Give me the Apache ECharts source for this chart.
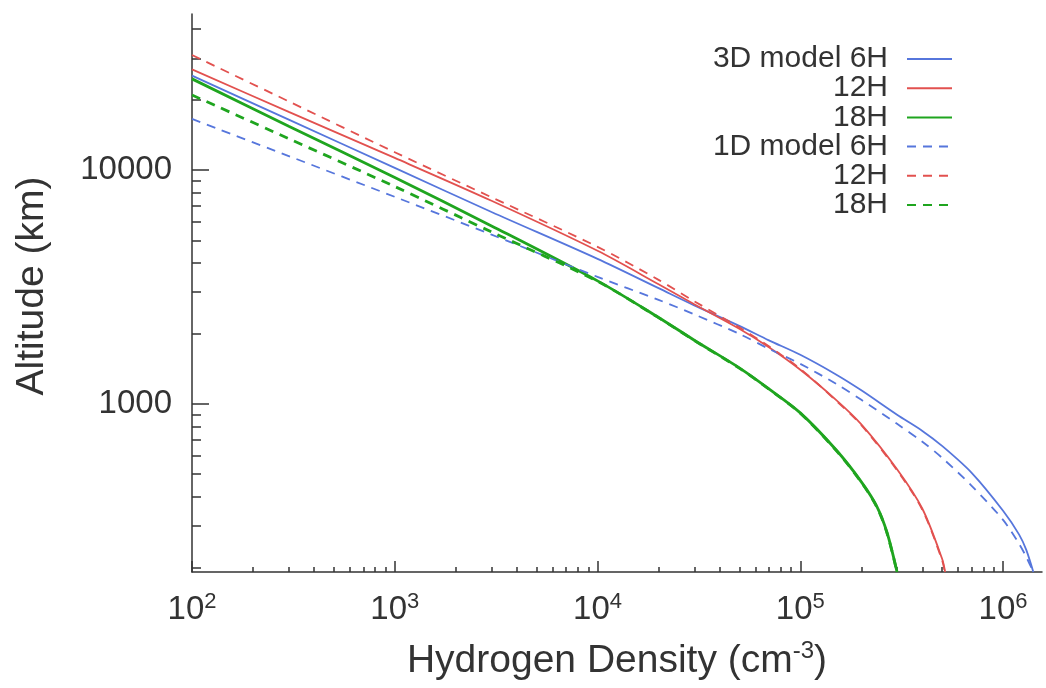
<!DOCTYPE html>
<html>
<head>
<meta charset="utf-8">
<title>Hydrogen density profiles</title>
<script src="https://cdn.jsdelivr.net/npm/echarts@6/dist/echarts.min.js"></script>
<style>
  html, body { margin: 0; padding: 0; background: #fff; }
  #chart { width: 1046px; height: 688px; }
</style>
</head>
<body>
<div id="chart"></div>
<script>
// Density (cm^-3) and altitude (km) pairs for each model run
const dens3D6H = [100, 300, 1000, 3000, 1e4, 2e4, 3e4, 5e4, 7e4, 1e5, 1.5e5, 2e5, 3e5, 4e5, 5e5, 7e5, 1e6, 1.2e6, 1.3e6, 1.41e6];
const alt3D6H  = [25300, 16400, 10200, 6610, 4166, 3122, 2636, 2154, 1868, 1620, 1335, 1142, 898, 766, 661, 507, 349, 276, 238, 191];

const dens3D12H = [100, 300, 1000, 3000, 1e4, 2e4, 3e4, 5e4, 7e4, 1e5, 1.5e5, 2e5, 3e5, 4e5, 5e5, 5.18e5];
const alt3D12H  = [26900, 17700, 11250, 7380, 4510, 3245, 2663, 2092, 1744, 1398, 1040, 817, 525, 356, 218, 191];

const dens3D18H = [100, 300, 1000, 3000, 1e4, 2e4, 3e4, 5e4, 7e4, 1e5, 1.5e5, 2e5, 2.39e5, 2.68e5, 3.0e5];
const alt3D18H  = [24500, 15360, 9290, 5764, 3354, 2340, 1870, 1425, 1159, 915, 636, 464, 363, 281, 191];

const dens1D6H = [100, 300, 1000, 3000, 1e4, 2e4, 3e4, 5e4, 7e4, 1e5, 1.5e5, 2e5, 3e5, 4e5, 5e5, 7e5, 1e6, 1.2e6, 1.3e6, 1.41e6];
const alt1D6H  = [16520, 11460, 7670, 5290, 3488, 2782, 2411, 1991, 1718, 1482, 1218, 1040, 821, 688, 588, 446, 319, 252, 222, 191];

const dens1D12H = [100, 300, 1000, 3000, 1e4, 2e4, 3e4, 5e4, 7e4, 1e5, 1.5e5, 2e5, 3e5, 4e5, 5e5, 5.16e5];
const alt1D12H  = [30980, 19630, 11900, 7640, 4690, 3388, 2745, 2123, 1761, 1411, 1032, 810, 520, 352, 215, 191];

const dens1D18H = [100, 300, 1000, 3000, 1e4, 2e4, 3e4, 5e4, 7e4, 1e5, 1.5e5, 2e5, 2.39e5, 2.68e5, 3.0e5];
const alt1D18H  = [20900, 13600, 8490, 5430, 3340, 2335, 1866, 1421, 1156, 912, 633, 462, 361, 279, 191];

// Axis ranges and tick values
const xRange = [100, 1.556e6];
const yRange = [191, 46400];
const xMajorTicks = [100, 1000, 1e4, 1e5, 1e6];
const xMinorTicks = [];
[100, 1000, 1e4, 1e5].forEach(d => { for (let k = 2; k <= 9; k++) xMinorTicks.push(d * k); });
const yMajorTicks = [1000, 10000];
const yMinorTicks = [200, 300, 400, 500, 600, 700, 800, 900, 2000, 3000, 4000, 5000, 6000, 7000, 8000, 9000, 20000, 30000, 40000];

// Legend labels (series ids are unique, the displayed text repeats)
const seriesLabels = {
  '3D 6H': '3D model 6H', '3D 12H': '12H', '3D 18H': '18H',
  '1D 6H': '1D model 6H', '1D 12H': '12H', '1D 18H': '18H'
};

const BLUE = '#5676dc', RED = '#e2514f', GREEN = '#1fa51f';
const INK = '#333';
const FONT = 'Liberation Sans, Arial, Helvetica, sans-serif';

function pairs(xs, ys) { return xs.map((x, i) => [x, ys[i]]); }

function lineSeries(name, xs, ys, color, width, dashed) {
  return {
    name: name, type: 'line', xAxisIndex: 0, yAxisIndex: 0,
    data: pairs(xs, ys), symbol: 'none', smooth: 0.3, clip: true,
    lineStyle: { color: color, width: width, type: dashed ? [9, 7] : 'solid' },
    itemStyle: { color: color },
    emphasis: { disabled: true }, z: 3
  };
}

const chart = echarts.init(document.getElementById('chart'), null, { renderer: 'canvas' });

chart.setOption({
  animation: false,
  backgroundColor: '#fff',
  grid: { left: 192, right: 4, top: 14, bottom: 116, containLabel: false, outerBoundsMode: 'none' },
  legend: {
    orient: 'vertical', right: 93, top: 44, padding: 0,
    align: 'right', itemWidth: 45, itemHeight: 14, itemGap: -0.8,
    itemStyle: { opacity: 0 },
    textStyle: { fontSize: 30, lineHeight: 29, color: INK, fontFamily: FONT, padding: [0, 14, 0, 0] },
    formatter: n => seriesLabels[n],
    data: ['3D 6H', '3D 12H', '3D 18H', '1D 6H', '1D 12H', '1D 18H']
  },
  xAxis: [
    {
      type: 'log', logBase: 10, min: xRange[0], max: xRange[1], position: 'bottom',
      name: '{a|Hydrogen Density (cm}{s|-3}{a|)}', nameLocation: 'middle', nameGap: 67,
      nameTextStyle: {
        fontFamily: FONT, color: INK,
        rich: {
          a: { fontSize: 39, fontFamily: FONT, color: INK },
          s: { fontSize: 24, fontFamily: FONT, color: INK, padding: [0, 0, 20, 0] }
        }
      },
      axisLine: { show: true, lineStyle: { color: INK, width: 1.5 } },
      axisTick: { show: true, inside: true, length: 11, lineStyle: { color: INK, width: 1.5 }, customValues: xMajorTicks },
      axisLabel: {
        show: true, margin: 19, customValues: xMajorTicks,
        formatter: v => '{b|10}{s|' + Math.round(Math.log10(v)) + '}',
        rich: {
          b: { fontSize: 33, fontFamily: FONT, color: INK },
          s: { fontSize: 22, fontFamily: FONT, color: INK, padding: [0, 0, 16, 0] }
        }
      },
      splitLine: { show: false }, minorTick: { show: false }
    },
    {
      type: 'log', logBase: 10, min: xRange[0], max: xRange[1], position: 'bottom',
      axisLine: { show: false },
      axisTick: { show: true, inside: true, length: 5, lineStyle: { color: INK, width: 1.5 }, customValues: xMinorTicks },
      axisLabel: { show: false }, splitLine: { show: false }
    }
  ],
  yAxis: [
    {
      type: 'log', logBase: 10, min: yRange[0], max: yRange[1], position: 'left',
      name: 'Altitude (km)', nameLocation: 'middle', nameGap: 140, nameRotate: 90,
      nameTextStyle: { fontSize: 39, fontFamily: FONT, color: INK, padding: [0, 0, 0, 14] },
      axisLine: { show: true, lineStyle: { color: INK, width: 1.5 } },
      axisTick: { show: true, inside: true, length: 17, lineStyle: { color: INK, width: 1.5 }, customValues: yMajorTicks },
      axisLabel: {
        show: true, margin: 20, fontSize: 33, fontFamily: FONT, color: INK, customValues: yMajorTicks,
        formatter: v => String(Math.round(v))
      },
      splitLine: { show: false }
    },
    {
      type: 'log', logBase: 10, min: yRange[0], max: yRange[1], position: 'left',
      axisLine: { show: false },
      axisTick: { show: true, inside: true, length: 9, lineStyle: { color: INK, width: 1.5 }, customValues: yMinorTicks },
      axisLabel: { show: false }, splitLine: { show: false }
    }
  ],
  series: [
    lineSeries('3D 6H', dens3D6H, alt3D6H, BLUE, 1.8, false),
    lineSeries('3D 12H', dens3D12H, alt3D12H, RED, 1.8, false),
    lineSeries('3D 18H', dens3D18H, alt3D18H, GREEN, 2.8, false),
    lineSeries('1D 6H', dens1D6H, alt1D6H, BLUE, 1.8, true),
    lineSeries('1D 12H', dens1D12H, alt1D12H, RED, 1.8, true),
    lineSeries('1D 18H', dens1D18H, alt1D18H, GREEN, 2.8, true)
  ]
});
</script>
</body>
</html>
